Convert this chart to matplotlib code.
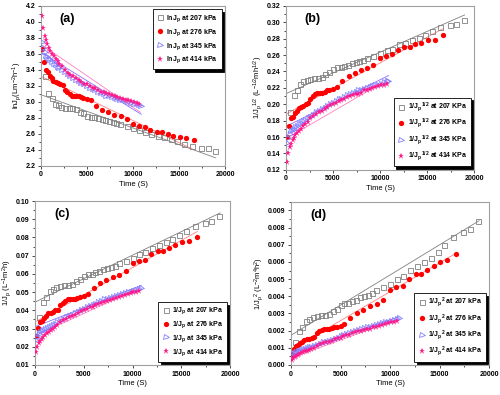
import numpy as np
import matplotlib
matplotlib.use("Agg")
import matplotlib.pyplot as plt
from matplotlib.ticker import MultipleLocator, FormatStrFormatter

plt.rcParams["font.family"] = ["Liberation Sans", "DejaVu Sans"]
plt.rcParams["font.weight"] = "bold"
plt.rcParams["mathtext.default"] = "regular"

# ---- time axes (s), one per pressure ---------------------------------------------------------
t207 = [400, 800, 1150, 1500, 1850, 2200, 2600, 3000, 3400, 3800, 4200, 4600, 5000, 5400, 5800, 6200,
        6600, 7000, 7400, 7800, 8200, 8600, 9300, 10000, 10700, 11300, 12000, 12700, 13400, 14100,
        14800, 15500, 16400, 17400, 18100, 18900]
t276 = [150, 350, 550, 750, 950, 1150, 1350, 1600, 1850, 2100, 2350, 2600, 2850, 3100, 3350, 3600, 3850,
        4100, 4350, 4600, 5000, 5400, 6000, 6650, 7300, 7950, 8650, 9300, 10000, 10650, 11300, 11900,
        12600, 13150, 13750, 14400, 15100, 15800, 16650]
t345 = [100, 250, 400, 550, 700, 850, 1000, 1200, 1400, 1600, 1800, 2000, 2300, 2600, 2900, 3200, 3500,
        3800, 4100, 4400, 4700, 5000, 5300, 5600, 5900, 6200, 6500, 6800, 7100, 7400, 7700, 8000, 8300,
        8600, 8900, 9200, 9500, 9800, 10100, 10400, 10700, 10900]
t414 = [100, 250, 400, 550, 700, 850, 1000, 1200, 1400, 1600, 1800, 2000, 2300, 2600, 2900, 3200, 3500,
        3800, 4100, 4400, 4700, 5000, 5300, 5600, 5900, 6200, 6500, 6800, 7100, 7400, 7700, 8000, 8300,
        8600, 8900, 9200, 9500, 9800, 10100, 10400, 10700]

# ---- (a) ln Jp -------------------------------------------------------------------------------
a207 = [3.32, 3.11, 3.05, 2.98, 2.96, 2.94, 2.93, 2.92, 2.92, 2.91, 2.88, 2.86, 2.83, 2.81, 2.81, 2.80,
        2.79, 2.77, 2.76, 2.75, 2.74, 2.72, 2.70, 2.68, 2.65, 2.63, 2.60, 2.58, 2.56, 2.54,
        2.51, 2.48, 2.45, 2.43, 2.42, 2.39]
a276 = [3.66, 3.50, 3.40, 3.37, 3.33, 3.30, 3.26, 3.25, 3.24, 3.22, 3.21, 3.15, 3.12, 3.10, 3.08, 3.08, 3.08,
        3.07, 3.06, 3.05, 3.04, 3.02, 2.95, 2.90, 2.87, 2.84, 2.82, 2.79, 2.72, 2.70, 2.69, 2.65,
        2.62, 2.62, 2.60, 2.58, 2.56, 2.55, 2.52]
a345 = [3.75, 3.68, 3.62, 3.58, 3.56, 3.54, 3.52, 3.50, 3.48, 3.46, 3.44, 3.42, 3.40, 3.37, 3.35, 3.32, 3.30,
        3.28, 3.26, 3.24, 3.22, 3.20, 3.18, 3.16, 3.15, 3.13, 3.11, 3.10, 3.08, 3.07, 3.06, 3.05, 3.04,
        3.03, 3.02, 3.01, 3.00, 2.99, 2.98, 2.97, 2.96, 2.95]
a414 = [4.08, 3.92, 3.82, 3.77, 3.72, 3.68, 3.64, 3.60, 3.57, 3.54, 3.51, 3.48, 3.45, 3.40, 3.36, 3.34, 3.32,
        3.30, 3.28, 3.25, 3.23, 3.22, 3.20, 3.18, 3.17, 3.15, 3.13, 3.12, 3.11, 3.10, 3.09, 3.08, 3.06,
        3.05, 3.04, 3.03, 3.02, 3.01, 3.00, 2.99, 2.98]

# ---- (b) 1/Jp^0.5 ----------------------------------------------------------------------------
b207 = [0.190, 0.211, 0.218, 0.225, 0.228, 0.230, 0.231, 0.232, 0.232, 0.233, 0.237, 0.239, 0.243, 0.245,
        0.245, 0.247, 0.248, 0.250, 0.252, 0.253, 0.254, 0.257, 0.259, 0.262, 0.266, 0.268, 0.273, 0.275,
        0.278, 0.281, 0.285, 0.289, 0.294, 0.297, 0.298, 0.303]
b276 = [0.160, 0.174, 0.183, 0.185, 0.189, 0.192, 0.196, 0.197, 0.198, 0.200, 0.201, 0.207, 0.210, 0.212,
        0.214, 0.214, 0.214, 0.215, 0.217, 0.218, 0.219, 0.221, 0.229, 0.235, 0.238, 0.242, 0.244, 0.248,
        0.257, 0.259, 0.261, 0.266, 0.270, 0.270, 0.273, 0.275, 0.278, 0.279, 0.284]
b345 = [0.153, 0.159, 0.164, 0.167, 0.169, 0.170, 0.172, 0.174, 0.176, 0.177, 0.179, 0.181, 0.183, 0.185,
        0.187, 0.190, 0.192, 0.194, 0.196, 0.198, 0.200, 0.202, 0.204, 0.206, 0.207, 0.209, 0.211, 0.212,
        0.214, 0.215, 0.217, 0.218, 0.219, 0.220, 0.221, 0.222, 0.223, 0.224, 0.225, 0.227, 0.228, 0.229]
b414 = [0.130, 0.141, 0.148, 0.152, 0.156, 0.159, 0.162, 0.165, 0.168, 0.170, 0.173, 0.176, 0.178, 0.183,
        0.186, 0.188, 0.190, 0.192, 0.194, 0.197, 0.199, 0.200, 0.202, 0.204, 0.205, 0.207, 0.209, 0.210,
        0.211, 0.212, 0.213, 0.214, 0.217, 0.218, 0.219, 0.220, 0.221, 0.222, 0.223, 0.224, 0.225]

# ---- (c) 1/Jp --------------------------------------------------------------------------------
c207 = [0.0362, 0.0446, 0.0474, 0.0508, 0.0518, 0.0529, 0.0534, 0.0539, 0.0539, 0.0545, 0.0561, 0.0573,
        0.0590, 0.0602, 0.0602, 0.0608, 0.0614, 0.0627, 0.0633, 0.0639, 0.0646, 0.0659, 0.0672, 0.0686,
        0.0707, 0.0721, 0.0743, 0.0758, 0.0773, 0.0789, 0.0813, 0.0837, 0.0863, 0.0880, 0.0889, 0.0916]
c276 = [0.0257, 0.0302, 0.0334, 0.0344, 0.0358, 0.0369, 0.0384, 0.0388, 0.0392, 0.0400, 0.0404, 0.0429,
        0.0442, 0.0450, 0.0460, 0.0460, 0.0460, 0.0464, 0.0469, 0.0474, 0.0478, 0.0488, 0.0523, 0.0550,
        0.0567, 0.0584, 0.0596, 0.0614, 0.0659, 0.0672, 0.0679, 0.0707, 0.0728, 0.0728, 0.0743, 0.0758,
        0.0773, 0.0781, 0.0805]
c345 = [0.0235, 0.0252, 0.0268, 0.0279, 0.0284, 0.0290, 0.0296, 0.0302, 0.0308, 0.0314, 0.0321, 0.0327,
        0.0334, 0.0344, 0.0351, 0.0362, 0.0369, 0.0376, 0.0384, 0.0392, 0.0400, 0.0408, 0.0416, 0.0424,
        0.0429, 0.0437, 0.0446, 0.0450, 0.0460, 0.0464, 0.0469, 0.0474, 0.0478, 0.0483, 0.0488, 0.0493,
        0.0498, 0.0503, 0.0508, 0.0513, 0.0518, 0.0523]
c414 = [0.0169, 0.0198, 0.0219, 0.0231, 0.0242, 0.0252, 0.0263, 0.0273, 0.0282, 0.0290, 0.0299, 0.0308,
        0.0317, 0.0334, 0.0347, 0.0354, 0.0362, 0.0369, 0.0376, 0.0388, 0.0396, 0.0400, 0.0408, 0.0416,
        0.0420, 0.0429, 0.0437, 0.0442, 0.0446, 0.0450, 0.0455, 0.0460, 0.0469, 0.0474, 0.0478, 0.0483,
        0.0488, 0.0493, 0.0498, 0.0503, 0.0508]

# ---- (d) 1/Jp^2 ------------------------------------------------------------------------------
d207 = [0.00131, 0.00199, 0.00224, 0.00258, 0.00269, 0.00279, 0.00285, 0.00291, 0.00291, 0.00297, 0.00315,
        0.00328, 0.00348, 0.00362, 0.00362, 0.00370, 0.00377, 0.00393, 0.00401, 0.00409, 0.00417, 0.00434,
        0.00452, 0.00470, 0.00499, 0.00520, 0.00552, 0.00574, 0.00598, 0.00622, 0.00660, 0.00701, 0.00745,
        0.00775, 0.00791, 0.00840]
d276 = [0.00066, 0.00091, 0.00111, 0.00118, 0.00128, 0.00136, 0.00147, 0.00150, 0.00153, 0.00160, 0.00163,
        0.00184, 0.00195, 0.00203, 0.00211, 0.00211, 0.00211, 0.00215, 0.00220, 0.00224, 0.00229, 0.00238,
        0.00274, 0.00303, 0.00321, 0.00341, 0.00355, 0.00377, 0.00434, 0.00452, 0.00461, 0.00499, 0.00530,
        0.00530, 0.00552, 0.00574, 0.00598, 0.00610, 0.00647]
d345 = [0.00055, 0.00064, 0.00072, 0.00078, 0.00081, 0.00084, 0.00088, 0.00091, 0.00095, 0.00099, 0.00103,
        0.00107, 0.00111, 0.00118, 0.00123, 0.00131, 0.00136, 0.00142, 0.00147, 0.00153, 0.00160, 0.00166,
        0.00173, 0.00180, 0.00184, 0.00191, 0.00199, 0.00203, 0.00211, 0.00216, 0.00220, 0.00224, 0.00229,
        0.00233, 0.00238, 0.00243, 0.00248, 0.00253, 0.00258, 0.00263, 0.00269, 0.00274]
d414 = [0.00029, 0.00039, 0.00048, 0.00053, 0.00059, 0.00064, 0.00069, 0.00075, 0.00079, 0.00084, 0.00089,
        0.00095, 0.00101, 0.00111, 0.00121, 0.00126, 0.00131, 0.00136, 0.00142, 0.00150, 0.00157, 0.00160,
        0.00166, 0.00173, 0.00176, 0.00184, 0.00191, 0.00195, 0.00199, 0.00203, 0.00207, 0.00211, 0.00220,
        0.00224, 0.00229, 0.00233, 0.00238, 0.00243, 0.00248, 0.00253, 0.00258]

pressures = ["207", "276", "345", "414"]
times = [t207, t276, t345, t414]

# fitted lines: end times and (start, end) values per panel
fit_t = [[0, 19000], [0, 16650], [0, 10900], [0, 10800]]
fit_a = [[3.09, 2.30], [3.32, 2.40], [3.62, 2.845], [3.72, 2.87]]
fit_b = [[0.213, 0.309], [0.188, 0.292], [0.173, 0.235], [0.158, 0.230]]
fit_c = [[0.0445, 0.0935], [0.0336, 0.0833], [0.031, 0.0537], [0.026, 0.0525]]
fit_d = [[0.00173, 0.0084], [0.0009, 0.0065], [0.0007, 0.0028], [0.0004, 0.00267]]

mk = dict(
    s207=dict(marker="s", ms=3.6, mfc="none", mec="#808080", mew=0.6),
    s276=dict(marker="o", ms=3.8, mfc="#ff0000", mec="#ff0000", mew=0),
    s345=dict(marker=">", ms=3.6, mfc="none", mec="#8080ff", mew=0.6),
    s414=dict(marker="*", ms=4.6, mfc="#ff1a8c", mec="#ff1a8c", mew=0),
)
line_col = ["#808080", "#ff8080", "#8a6cff", "#ff80c0"]

panels = [
    dict(pos=[0.082, 0.580, 0.368, 0.405], vals=[a207, a276, a345, a414], fit=fit_a, tag="(a)",
         ylim=(2.2, 4.2), ymaj=0.2, fmt="%.1f", ylab="lnJ$_p$(Lm$^{-2}$h$^{-1}$)",
         lab="lnJ$_p$ at PPP kPa", loc="upper right"),
    dict(pos=[0.572, 0.570, 0.376, 0.415], vals=[b207, b276, b345, b414], fit=fit_b, tag="(b)",
         ylim=(0.12, 0.32), ymaj=0.02, fmt="%.2f", ylab="1/J$_p$$^{1/2}$ (L$^{-1/2}$mh$^{1/2}$)",
         lab="1/J$_p$$^{1/2}$ at PPP KPa", loc="lower right"),
    dict(pos=[0.070, 0.076, 0.390, 0.415], vals=[c207, c276, c345, c414], fit=fit_c, tag="(c)",
         ylim=(0.01, 0.10), ymaj=0.01, fmt="%.2f", ylab="1/J$_p$ (L$^{-1}$m$^2$h)",
         lab="1/J$_p$ at PPP kPa", loc="lower right"),
    dict(pos=[0.582, 0.076, 0.396, 0.413], vals=[d207, d276, d345, d414], fit=fit_d, tag="(d)",
         ylim=(0.0, 0.0095), ymaj=0.001, fmt="%.3f", ylab="1/J$_p$$^2$ (L$^{-2}$m$^4$h$^2$)",
         lab="1/J$_p$$^2$ at PPP kPa", loc="lower right"),
]

fig = plt.figure(figsize=(5.0, 3.95), dpi=100)
for p in panels:
    ax = fig.add_axes(p["pos"])
    for i, pr in enumerate(pressures):
        ax.plot(fit_t[i], p["fit"][i], "-", color=line_col[i], lw=0.6, zorder=2)
    for i, pr in enumerate(pressures):
        ax.plot(times[i], p["vals"][i], ls="none", label=p["lab"].replace("PPP", pr), zorder=3, **mk["s" + pr])
    ax.set_xlim(0, 20000)
    ax.set_ylim(*p["ylim"])
    ax.xaxis.set_major_locator(MultipleLocator(5000))
    ax.xaxis.set_minor_locator(MultipleLocator(2500))
    ax.yaxis.set_major_locator(MultipleLocator(p["ymaj"]))
    ax.yaxis.set_minor_locator(MultipleLocator(p["ymaj"] / 2))
    ax.yaxis.set_major_formatter(FormatStrFormatter(p["fmt"]))
    ax.tick_params(which="both", direction="out", labelsize=5, colors="#000000", width=0.5, pad=1.5)
    ax.tick_params(which="major", length=2.5)
    ax.tick_params(which="minor", length=1.5)
    for sp in ax.spines.values():
        sp.set_color("#a0a0a0"); sp.set_linewidth(0.8)
    ax.set_xlabel("Time (S)", fontsize=5.5, labelpad=2)
    ax.set_ylabel(p["ylab"], fontsize=5.5, labelpad=1)
    ax.text(0.1, 0.9, p["tag"], transform=ax.transAxes, fontsize=9, fontweight="bold")
    leg = ax.legend(loc=p["loc"], fontsize=5, frameon=True, fancybox=False, handletextpad=0.3,
                    borderpad=0.5, labelspacing=0.45, handlelength=1.2,
                    shadow={"color": "black", "alpha": 1.0})
    leg.get_frame().set_edgecolor("black")
    leg.get_frame().set_linewidth(0.6)

fig.savefig("out.png", dpi=100)
